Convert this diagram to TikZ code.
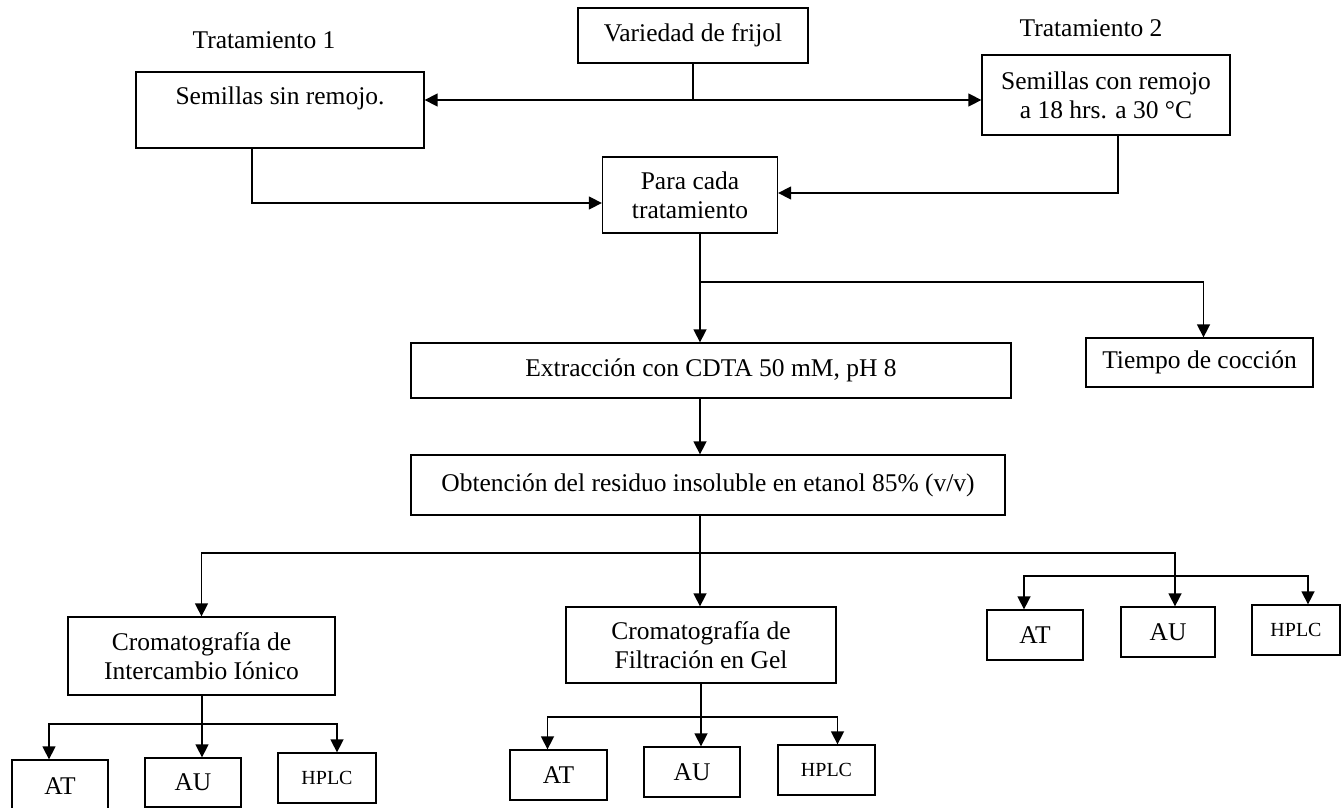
\documentclass[tikz,border=0pt]{standalone}
\usepackage{fontspec}
\setmainfont{Liberation Serif}
\usetikzlibrary{arrows.meta}
\newcommand\myfs{\fontsize{25.5}{29}\selectfont}
\newcommand\mysmallfs{\fontsize{20}{24}\selectfont}
\tikzset{
  box/.style={draw, line width=1.3pt, inner sep=0pt, align=center, font=\myfs},
  smallbox/.style={box, font=\mysmallfs},
  lbl/.style={inner sep=0pt, font=\myfs},
  ln/.style={line width=1.5pt},
  arr/.style={line width=1.5pt, -{Triangle[length=13pt,width=13pt]}}
}
\begin{document}
\begin{tikzpicture}[x=1pt,y=-1pt]
\useasboundingbox (0,0) rectangle (1344,808);
\fill[white] (0,0) rectangle (1344,808);
\clip (0,0) rectangle (1344,808);
% nodes
\node[box, minimum width=230pt, minimum height=55pt] (var) at (693,35.5) {Variedad de frijol};
\node[lbl] (t1) at (264,40) {Tratamiento 1};
\node[lbl] (t2) at (1091,28) {Tratamiento 2};
\node[box, minimum width=288pt, minimum height=76pt] (sin) at (280,110) {Semillas sin remojo.\\ \mbox{}};
\node[box, minimum width=248pt, minimum height=80pt] (con) at (1106,95) {Semillas con remojo\\a 18 hrs. a 30 °C};
\node[box, minimum width=175pt, minimum height=76pt] (para) at (690,195) {Para cada\\tratamiento};
\node[box, minimum width=600pt, minimum height=55pt] (ext) at (711,370.5) {Extracción con CDTA 50 mM, pH 8};
\node[box, minimum width=227pt, minimum height=49pt] (tiempo) at (1199.5,362.5) {Tiempo de cocción};
\node[box, minimum width=594pt, minimum height=60pt] (obt) at (708,485) {Obtención del residuo insoluble en etanol 85\% (v/v)};
\node[box, minimum width=267pt, minimum height=78pt] (ie) at (201.5,656) {Cromatografía de\\Intercambio Iónico};
\node[box, minimum width=270pt, minimum height=76pt] (fg) at (701,645) {Cromatografía de\\Filtración en Gel};
\node[box, minimum width=96pt, minimum height=50pt] (rat) at (1035,635) {AT};
\node[box, minimum width=94pt, minimum height=50pt] (rau) at (1168,632) {AU};
\node[smallbox, minimum width=88pt, minimum height=50pt] (rhp) at (1296,630) {HPLC};
\node[box, minimum width=96pt, minimum height=52pt] (lat) at (60,786) {AT};
\node[box, minimum width=96pt, minimum height=49pt] (lau) at (193,782.5) {AU};
\node[smallbox, minimum width=98pt, minimum height=50pt] (lhp) at (327,778) {HPLC};
\node[box, minimum width=97pt, minimum height=50pt] (mat) at (558.5,775) {AT};
\node[box, minimum width=96pt, minimum height=50pt] (mau) at (692,772) {AU};
\node[smallbox, minimum width=97pt, minimum height=50pt] (mhp) at (826.5,770) {HPLC};
% junctions
\coordinate (cx) at (700,0);
\coordinate (j1) at (693,100);
\coordinate (b1) at (700,282);
\coordinate (b2) at (700,553);
\coordinate (b3) at (1175,576);
\coordinate (b4) at (202,724);
\coordinate (b5) at (701,717);
% connectors
\draw[ln] (var.south) -- (j1);
\draw[arr] (j1) -- (j1 -| sin.east);
\draw[arr] (j1) -- (j1 -| con.west);
\draw[arr] ([xshift=-28pt]sin.south) |- ([yshift=-8pt]para.west);
\draw[arr] ([xshift=12pt]con.south) |- ([yshift=2pt]para.east);
\draw[ln] (para.south -| cx) -- (b1);
\draw[arr] (b1) -- (ext.north -| cx);
\draw[arr] (b1) -| ([xshift=4pt]tiempo.north);
\draw[arr] (ext.south -| cx) -- (obt.north -| cx);
\draw[arr] (obt.south -| cx) -- (fg.north -| cx);
\draw[arr] (b2) -| (ie.north);
\draw[arr] (b2) -| ([xshift=7pt]rau.north);
\draw[arr] (b3) -| ([xshift=-11pt]rat.north);
\draw[arr] (b3) -| ([xshift=12pt]rhp.north);
\draw[arr] (ie.south -| b4) -- (lau.north -| b4);
\draw[arr] (b4) -| ([xshift=-11pt]lat.north);
\draw[arr] (b4) -| ([xshift=10pt]lhp.north);
\draw[arr] (fg.south -| b5) -- (mau.north -| b5);
\draw[arr] (b5) -| ([xshift=-11pt]mat.north);
\draw[arr] (b5) -| ([xshift=11pt]mhp.north);
\end{tikzpicture}
\end{document}
